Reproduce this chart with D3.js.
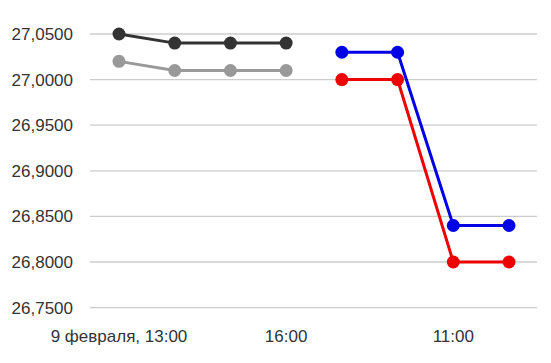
<!DOCTYPE html>
<html>
<head>
    <meta charset="utf-8">
    <title>Курс</title>
</head>
<body style="margin:0;background:#fff">
<style>
    text { font-family: "Liberation Sans", Arial, sans-serif; font-size: 17px; fill: #333; }
</style>
<script src="https://d3js.org/d3.v7.min.js"></script>
<script>
    // x categories (8 slots), only some are labelled
    const slots = [0, 1, 2, 3, 4, 5, 6, 7];
    const xTickLabels = {0: '9 февраля, 13:00', 3: '16:00', 6: '11:00'};
    const yTicks = [26.75, 26.80, 26.85, 26.90, 26.95, 27.00, 27.05];

    const darkSeries = [27.05, 27.04, 27.04, 27.04];
    const graySeries = [27.02, 27.01, 27.01, 27.01];
    const blueSeries = [27.03, 27.03, 26.84, 26.84];
    const redSeries = [27.00, 27.00, 26.80, 26.80];

    const series = [
        {color: '#999999', start: 0, values: graySeries},
        {color: '#333333', start: 0, values: darkSeries},
        {color: '#ee0000', start: 4, values: redSeries},
        {color: '#0000e6', start: 4, values: blueSeries}
    ];

    const W = 551, H = 363;
    const svg = d3.select('body').append('svg').attr('width', W).attr('height', H);

    const x = d3.scalePoint().domain(slots).range([119, 509]);
    const y = d3.scaleLinear().domain([26.75, 27.05]).range([307.6, 34]);

    // grid
    svg.append('g').selectAll('line').data(yTicks).join('line')
        .attr('x1', 90).attr('x2', 537)
        .attr('y1', d => y(d)).attr('y2', d => y(d))
        .attr('stroke', '#cccccc').attr('stroke-width', 1.3);

    const fmt = d => d3.format('.4f')(d).replace('.', ',');
    svg.append('g').selectAll('text').data(yTicks).join('text')
        .attr('x', 73).attr('y', d => y(d) + 6)
        .attr('text-anchor', 'end')
        .text(fmt);

    svg.append('g').selectAll('text').data(Object.keys(xTickLabels).map(Number)).join('text')
        .attr('x', d => x(d)).attr('y', 342)
        .attr('text-anchor', 'middle')
        .text(d => xTickLabels[d]);

    const line = d3.line().x(d => x(d.i)).y(d => y(d.v));

    series.forEach(s => {
        const pts = s.values.map((v, k) => ({i: s.start + k, v}));
        const g = svg.append('g');
        g.append('path').datum(pts)
            .attr('d', line)
            .attr('fill', 'none')
            .attr('stroke', s.color)
            .attr('stroke-width', 3);
        g.selectAll('circle').data(pts).join('circle')
            .attr('cx', d => x(d.i)).attr('cy', d => y(d.v))
            .attr('r', 6.5)
            .attr('fill', s.color);
    });
</script>
</body>
</html>
